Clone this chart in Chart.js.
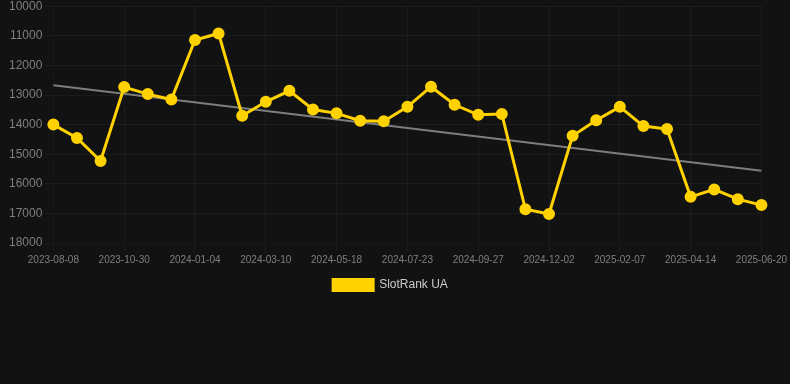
<!DOCTYPE html>
<html>
<head>
<meta charset="utf-8">
<script src="https://cdn.jsdelivr.net/npm/chart.js@4/dist/chart.umd.min.js"></script>
<style>
    html, body { margin: 0; padding: 0; background: #121212; overflow: hidden; }
    #wrap { width: 790px; height: 305px; margin-top: -4px; position: relative; }
</style>
</head>
<body>
<div id="wrap"><canvas id="rankChart"></canvas></div>
<script>
// --- Data ---
const dates = [
    '2023-08-08', '2023-09-05', '2023-10-02', '2023-10-30', '2023-11-21', '2023-12-13',
    '2024-01-04', '2024-01-26', '2024-02-17', '2024-03-10', '2024-04-02', '2024-04-25',
    '2024-05-18', '2024-06-09', '2024-07-01', '2024-07-23', '2024-08-14', '2024-09-05',
    '2024-09-27', '2024-10-19', '2024-11-10', '2024-12-02', '2024-12-24', '2025-01-16',
    '2025-02-07', '2025-03-01', '2025-03-23', '2025-04-14', '2025-05-06', '2025-05-28',
    '2025-06-20'
];
const rankUA = [
    14000, 14450, 15230, 12730, 12970, 13150,
    11140, 10920, 13700, 13230, 12860, 13490,
    13620, 13870, 13890, 13400, 12720, 13330,
    13670, 13640, 16860, 17020, 14380, 13850,
    13400, 14050, 14150, 16440, 16190, 16520,
    16720
];
// trend line endpoints (first and last date)
const trendEnds = [12670, 15560];
const yTicks = [10000, 11000, 12000, 13000, 14000, 15000, 16000, 17000, 18000];

const trendData = dates.map((_, i) =>
    i === 0 ? trendEnds[0] : (i === dates.length - 1 ? trendEnds[1] : null));

const gridColor = 'rgba(255,255,255,0.045)';
const tickColor = '#7f7f7f';
const fontFamily = 'Liberation Sans, Arial, sans-serif';

new Chart(document.getElementById('rankChart'), {
    type: 'line',
    data: {
        labels: dates,
        datasets: [{
            label: 'SlotRank UA',
            data: rankUA,
            borderColor: '#FFD200',
            backgroundColor: '#FFD200',
            borderWidth: 3,
            pointRadius: 4.5,
            pointHoverRadius: 6,
            tension: 0
        }, {
            label: 'Trend',
            data: trendData,
            spanGaps: true,
            borderColor: '#7d7d7d',
            borderWidth: 2,
            pointRadius: 0,
            tension: 0
        }]
    },
    options: {
        responsive: true,
        maintainAspectRatio: false,
        animation: false,
        layout: { padding: { left: 6, right: 15 } },
        scales: {
            x: {
                grid: { color: gridColor },
                ticks: {
                    color: tickColor,
                    font: { family: fontFamily, size: 10 },
                    autoSkip: false,
                    maxRotation: 0,
                    callback: (v, i) => (i % 3 === 0 ? dates[i] : null)
                }
            },
            y: {
                reverse: true,
                min: yTicks[0],
                max: yTicks[yTicks.length - 1],
                grid: { color: gridColor },
                afterBuildTicks: axis => { axis.ticks = yTicks.map(v => ({ value: v })); },
                ticks: {
                    color: tickColor,
                    font: { family: fontFamily, size: 12 },
                    callback: v => String(v)
                }
            }
        },
        plugins: {
            legend: {
                position: 'bottom',
                labels: {
                    color: '#cccccc',
                    boxWidth: 40,
                    boxHeight: 11,
                    font: { family: fontFamily, size: 12 },
                    filter: item => item.datasetIndex === 0
                }
            },
            tooltip: { enabled: false }
        }
    }
});
</script>
</body>
</html>
